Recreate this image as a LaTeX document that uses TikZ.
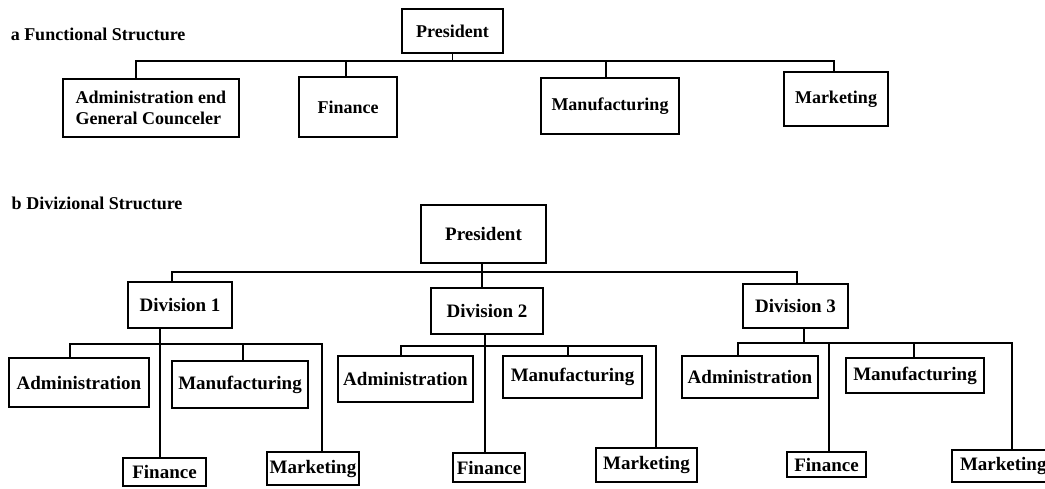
\documentclass[tikz,border=0pt]{standalone}
\usepackage{fontspec}
\setmainfont{Liberation Serif}
\usepackage{tikz}
\usetikzlibrary{calc,positioning}
\tikzset{
   org chart/.style={%pixel grid of the reference
      x=0.5pt, y=-0.5pt,
      every path/.style={line width=0.75pt},
      },
   unit/.style 2 args={%box with its size in pixels
      draw, line width=1pt, inner sep=1pt, outer sep=0pt,
      minimum width=#1*0.5pt, minimum height=#2*0.5pt,
      font=\bfseries\fontsize{9}{10.5}\selectfont},
   unit b/.style 2 args={unit={#1}{#2}, font=\bfseries\fontsize{9.5}{11}\selectfont},
   chart title/.style={anchor=west, inner sep=0pt, font=\bfseries\fontsize{9}{11}\selectfont}
}

\begin{document}
\begin{tikzpicture}[org chart]
  \useasboundingbox (0,0) rectangle (1045,488);
  % a: functional structure
  \node[chart title] (titleA) at (10,34) {a Functional Structure};
  \node[unit={101}{44}] (P1) at (452.5,31) {President};
  \node[unit={176}{58}, align=left] (A1) at (151,108) {Administration end\\General Counceler};
  \node[unit={98}{60}] (F1) at (348,107) {Finance};
  \node[unit={138}{56}] (M1) at (610,106) {Manufacturing};
  \node[unit={104}{54}] (K1) at (836,99) {Marketing};
  \coordinate (busA) at (0,61);
  \draw (P1.south) -- (P1.south |- busA) -| ([xshift=-7.5pt]A1.north);
  \draw (P1.south |- busA) -| ([xshift=-1pt]F1.north);
  \draw (P1.south |- busA) -| ([xshift=-2pt]M1.north);
  \draw (P1.south |- busA) -| ([xshift=-1pt]K1.north);

  % b: divisional structure
  \node[chart title] (titleB) at (11,203) {b Divizional Structure};
  \node[unit b={125}{58}] (P2) at (483.5,234) {President};
  \node[unit b={104}{46}] (D1) at (180,305) {Division 1};
  \node[unit b={112}{46}] (D2) at (487,311) {Division 2};
  \node[unit b={105}{44}] (D3) at (795.5,306) {Division 3};
  \coordinate (busB) at (0,272);
  \draw ([xshift=-0.75pt]P2.south) -- ([xshift=-0.75pt]P2.south |- busB) -| ([xshift=-4pt]D1.north);
  \draw ([xshift=-0.75pt]P2.south) -- ([xshift=-2.5pt]D2.north);
  \draw ([xshift=-0.75pt]P2.south |- busB) -| ([xshift=0.75pt]D3.north);

  % division 1
  \node[unit b={140}{49}] (Ad1) at (79,382.5) {Administration};
  \node[unit b={136}{47}] (Mf1) at (240,384.5) {Manufacturing};
  \node[unit b={83}{28}] (Fi1) at (164.5,472) {Finance};
  \node[unit b={92}{33}] (Mk1) at (313,468.5) {Marketing};
  \coordinate (bus1) at (0,344);
  \draw ([xshift=-2.25pt]D1.south -| Fi1.north) -- ([xshift=-2.25pt]Fi1.north);
  \draw ([xshift=-4.5pt]Ad1.north) |- ([xshift=4.5pt]Mk1.north |- bus1) -- ([xshift=4.5pt]Mk1.north);
  \draw ([xshift=1.5pt]Mf1.north) -- ([xshift=1.5pt]Mf1.north |- bus1);

  % division 2
  \node[unit b={135}{46}] (Ad2) at (405.5,379) {Administration};
  \node[unit b={139}{42}] (Mf2) at (572.5,377) {Manufacturing};
  \node[unit b={72}{29}] (Fi2) at (489,467.5) {Finance};
  \node[unit b={101}{34}] (Mk2) at (646.5,465) {Marketing};
  \coordinate (bus2) at (0,346);
  \draw ([xshift=-2pt]D2.south -| Fi2.north) -- ([xshift=-2pt]Fi2.north);
  \draw ([xshift=-2.25pt]Ad2.north) |- ([xshift=4.75pt]Mk2.north |- bus2) -- ([xshift=4.75pt]Mk2.north);
  \draw ([xshift=-2.25pt]Mf2.north) -- ([xshift=-2.25pt]Mf2.north |- bus2);

  % division 3
  \node[unit b={136}{42}] (Ad3) at (750,377) {Administration};
  \node[unit b={138}{35}] (Mf3) at (915,375.5) {Manufacturing};
  \node[unit b={79}{25}] (Fi3) at (826.5,464.5) {Finance};
  \node[unit b={100}{32}, text width=42pt] (Mk3) at (1002,466) {Marketing};
  \coordinate (bus3) at (0,343);
  \draw ([xshift=4.25pt]D3.south) -- ([xshift=4.25pt]D3.south |- bus3);
  \draw ([xshift=-6pt]Ad3.north) |- ([xshift=5pt]Mk3.north |- bus3) -- ([xshift=5pt]Mk3.north);
  \draw ([xshift=1.25pt]Fi3.north) -- ([xshift=1.25pt]Fi3.north |- bus3);
  \draw ([xshift=-0.5pt]Mf3.north) -- ([xshift=-0.5pt]Mf3.north |- bus3);
\end{tikzpicture}
\end{document}
